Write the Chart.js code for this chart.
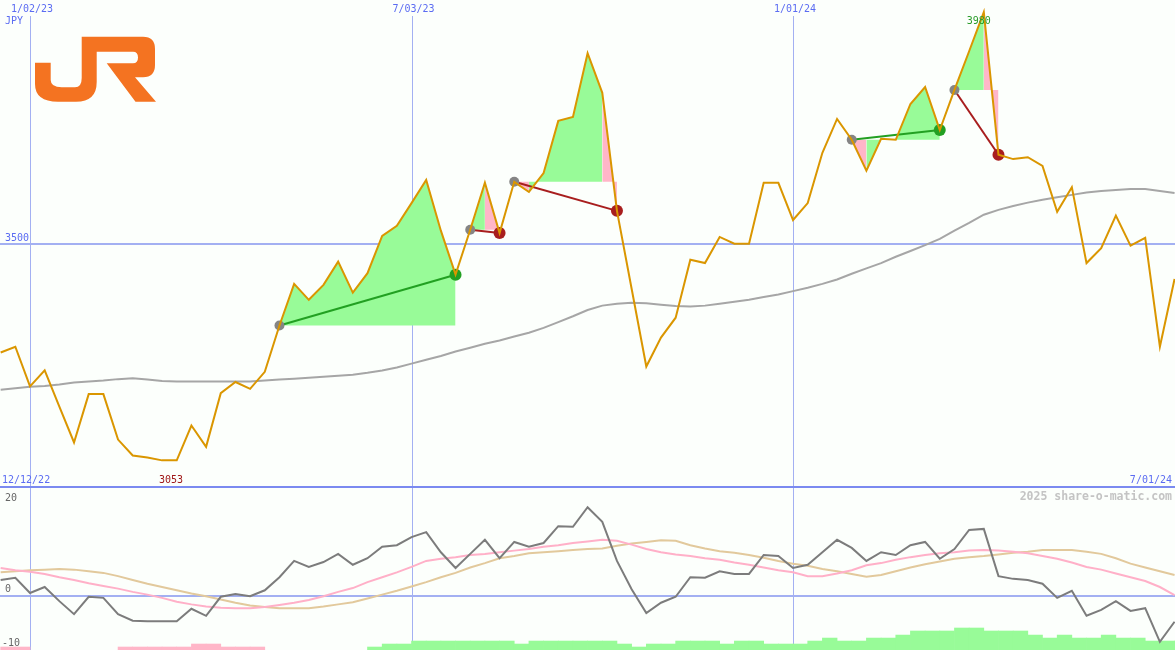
<!DOCTYPE html>
<html>
<head>
<meta charset="utf-8">
<title>JR weekly</title>
<script src="https://cdn.jsdelivr.net/npm/chart.js@4"></script>
<style>
  html, body { margin: 0; padding: 0; background: #fcfffc; }
  #wrap { position: relative; width: 1175px; height: 650px; overflow: hidden; }
  #precio { position: absolute; left: 0; top: 0; }
  #osc { position: absolute; left: 0; top: 486px; }
  #logo { position: absolute; left: 0; top: 0; }
</style>
</head>
<body>
<div id="wrap">
  <canvas id="precio" width="1175" height="486"></canvas>
  <canvas id="osc" width="1175" height="164"></canvas>
  <svg id="logo" width="170" height="110" viewBox="0 0 170 110">
    <path fill="#f47321" d="M35,62.7 H50.7 V80 Q50.7,87.3 61.7,87.3 H75 Q81.7,87.3 81.7,78 V36.7 H143 Q155,36.7 155,49 V65 Q155,77.3 143,77.3 H135 L156,101.7 H135.5 L106.7,63.3 H133 Q138,63.3 138,57.5 Q138,51.7 133,51.7 H96.7 V82 Q96.7,101.7 76,101.7 H58 Q35,101.7 35,84 Z"/>
  </svg>
</div>
<script>
// semanas: la primera es 12/19/22 (semana -2), 1/02/23 = semana 0
const FIRST_WEEK = -2;
const gridWeeks = [0, 26, 52];
const gridLabels = ['1/02/23', '7/03/23', '1/01/24'];

// precio semanal (JPY)
const price = [
  3276, 3288, 3206, 3239, 3164, 3090, 3190, 3190, 3096, 3063, 3059, 3053, 3053, 3125, 3081,
  3192, 3215, 3201, 3236, 3332, 3418, 3385, 3416, 3464, 3400, 3440, 3517, 3538, 3585, 3633,
  3528, 3437, 3530, 3627, 3523, 3629, 3608, 3647, 3755, 3763, 3895, 3813, 3569, 3408, 3247,
  3307, 3348, 3468, 3461, 3515, 3501, 3501, 3627, 3627, 3550, 3585, 3689, 3759, 3716, 3652,
  3718, 3716, 3790, 3825, 3736, 3819, 3899, 3980, 3685, 3676, 3680, 3662, 3567, 3618, 3461,
  3492, 3559, 3497, 3513, 3288, 3428
];

// media movil (gris)
const average = [
  3199, 3202, 3205, 3207, 3210, 3214, 3216, 3218, 3221, 3223, 3220, 3217, 3216, 3216, 3216,
  3216, 3216, 3216, 3218, 3220, 3222, 3224, 3226, 3228, 3230, 3234, 3239, 3245, 3253, 3261,
  3269, 3278, 3286, 3294, 3301, 3309, 3317, 3327, 3339, 3351, 3364, 3373, 3377, 3379, 3378,
  3375, 3372, 3371, 3373, 3377, 3381, 3385, 3391, 3396, 3403, 3410, 3418, 3427, 3439, 3450,
  3461, 3474, 3486, 3498, 3511, 3528, 3544, 3561, 3571, 3579, 3586, 3592, 3597, 3602, 3607,
  3610, 3612, 3614, 3614, 3610, 3606
];

// oscilador (panel inferior)
const momentum = [
  2.9, 3.3, 0.5, 1.6, -1.0, -3.4, -0.2, -0.4, -3.4, -4.6, -4.7, -4.7, -4.7, -2.4, -3.7,
  -0.2, 0.3, -0.1, 1.0, 3.4, 6.4, 5.3, 6.2, 7.7, 5.7, 6.9, 9.0, 9.3, 10.8, 11.7,
  8.0, 5.1, 7.7, 10.3, 6.9, 9.9, 9.0, 9.7, 12.8, 12.7, 16.3, 13.6, 6.4, 1.2, -3.2,
  -1.3, -0.2, 3.4, 3.3, 4.5, 4.0, 4.0, 7.5, 7.3, 5.1, 5.7, 8.0, 10.3, 8.8, 6.4,
  8.0, 7.5, 9.3, 9.9, 6.8, 8.6, 12.1, 12.3, 3.6, 3.1, 2.9, 2.2, -0.4, 0.9, -3.7,
  -2.6, -1.0, -2.8, -2.3, -8.5, -4.8
];
const signal = [
  5.1, 4.7, 4.4, 4.0, 3.4, 2.9, 2.3, 1.8, 1.3, 0.7, 0.2, -0.4, -1.1, -1.6, -2.0,
  -2.2, -2.3, -2.3, -2.1, -1.7, -1.3, -0.8, -0.1, 0.7, 1.4, 2.5, 3.4, 4.3, 5.3, 6.4,
  6.8, 7.1, 7.5, 7.7, 8.0, 8.3, 8.6, 9.0, 9.3, 9.7, 10.0, 10.3, 10.1, 9.4, 8.6,
  8.0, 7.6, 7.3, 6.9, 6.6, 6.1, 5.7, 5.2, 4.7, 4.3, 3.6, 3.6, 4.1, 4.7, 5.6,
  6.0, 6.6, 7.1, 7.5, 7.8, 8.0, 8.3, 8.4, 8.3, 8.1, 7.8, 7.3, 6.8, 6.1, 5.3,
  4.8, 4.1, 3.4, 2.7, 1.6, 0.1
];
const slow = [
  4.3, 4.5, 4.7, 4.8, 4.9, 4.8, 4.5, 4.2, 3.6, 2.9, 2.2, 1.6, 1.0, 0.4, -0.1,
  -0.7, -1.3, -1.8, -2.1, -2.3, -2.3, -2.3, -2.0, -1.6, -1.2, -0.5, 0.2, 0.9, 1.7, 2.5,
  3.4, 4.2, 5.2, 6.0, 6.9, 7.3, 7.8, 8.0, 8.2, 8.4, 8.6, 8.7, 9.2, 9.6, 9.9,
  10.2, 10.1, 9.3, 8.7, 8.2, 7.9, 7.5, 7.0, 6.4, 5.9, 5.5, 4.9, 4.5, 4.0, 3.5,
  3.8, 4.5, 5.2, 5.8, 6.3, 6.8, 7.1, 7.3, 7.6, 7.9, 8.1, 8.4, 8.4, 8.4, 8.1,
  7.7, 6.9, 5.9, 5.2, 4.5, 3.8
];
// histograma: positivo verde, negativo rosa (altura desde la base -10)
const histogram = [
  -0.55, -0.55, 0, 0, 0, 0, 0, 0, -0.55, -0.55, -0.55, -0.55, -0.55, -1.1, -1.1,
  -0.55, -0.55, -0.55, 0, 0, 0, 0, 0, 0, 0, 0.55, 1.1, 1.1, 1.65, 1.65,
  1.65, 1.65, 1.65, 1.65, 1.65, 1.1, 1.65, 1.65, 1.65, 1.65, 1.65, 1.65, 1.1, 0.55, 1.1,
  1.1, 1.65, 1.65, 1.65, 1.1, 1.65, 1.65, 1.1, 1.1, 1.1, 1.65, 2.2, 1.65, 1.65, 2.2,
  2.2, 2.75, 3.5, 3.5, 3.5, 4.05, 4.05, 3.5, 3.5, 3.5, 2.75, 2.2, 2.75, 2.2, 2.2,
  2.75, 2.2, 2.2, 1.65, 1.65, 1.65
];

// operaciones: semana de entrada, semana de salida, color de cada tramo (g verde / p rosa)
const tradeEntry = [17, 30, 33, 56, 63];
const tradeExit = [29, 32, 40, 62, 66];
const tradeFill = ['gggggggggggg', 'gp', 'pgggggp', 'pgpggg', 'ggp'];

const X_MIN = -2.045, X_MAX = 78.03;
const gridColor = '#a3b0f2';
const labelBlue = '#5b6cf2';
const mono = '"DejaVu Sans Mono", monospace';
const verde = '#98fb98', rosa = '#ffb6c8';

const pt = (arr, i) => ({ x: i + FIRST_WEEK, y: arr[i] });

// ---------- panel de precio ----------
const datasetsPrecio = [];

datasetsPrecio.push({
  label: 'precio',
  data: price.map((p, i) => pt(price, i)),
  borderColor: '#da9600',
  borderWidth: 2,
  order: 0
});

tradeEntry.forEach((entrada, t) => {
  const salida = tradeExit[t];
  const e = entrada - FIRST_WEEK, s = salida - FIRST_WEEK;
  const gano = price[s] > price[e];
  const colorSalida = gano ? '#22a022' : '#a81e1e';

  // linea entrada -> salida con marcadores
  datasetsPrecio.push({
    label: 'trade' + t,
    data: [pt(price, e), pt(price, s)],
    borderColor: colorSalida,
    borderWidth: 2,
    pointRadius: [5, 6],
    pointBackgroundColor: ['#858585', colorSalida],
    pointBorderWidth: 0,
    order: 1
  });

  // area entre el precio y el nivel de entrada
  const tramo = [];
  for (let i = e; i <= s; i++) tramo.push(pt(price, i));
  datasetsPrecio.push({
    label: 'area' + t,
    data: tramo,
    borderWidth: 0,
    borderColor: 'rgba(0,0,0,0)',
    backgroundColor: verde,
    fill: { value: price[e] },
    segment: {
      backgroundColor: c => tradeFill[t][c.p0DataIndex] === 'g' ? verde : rosa
    },
    order: 3
  });
});

datasetsPrecio.push({
  label: 'media',
  data: average.map((p, i) => pt(average, i)),
  borderColor: '#a6a6a6',
  borderWidth: 2,
  order: 2
});

const decorPrecio = {
  id: 'decorPrecio',
  beforeDatasetsDraw(chart) {
    const { ctx, scales: { x, y }, width, height } = chart;
    ctx.save();
    ctx.fillStyle = gridColor;
    gridWeeks.forEach(w => ctx.fillRect(Math.round(x.getPixelForValue(w)), 16, 1, height - 16));
    const y35 = Math.round(y.getPixelForValue(3500));
    ctx.fillRect(0, y35 - 1, width, 2);
    ctx.restore();
  },
  afterDatasetsDraw(chart) {
    const { ctx, scales: { x, y }, width } = chart;
    ctx.save();
    ctx.font = '10px ' + mono;
    ctx.textBaseline = 'alphabetic';
    ctx.fillStyle = labelBlue;
    ctx.textAlign = 'center';
    gridWeeks.forEach((w, i) => ctx.fillText(gridLabels[i], x.getPixelForValue(w) + 2, 12));
    ctx.textAlign = 'left';
    ctx.fillText('JPY', 5, 24);
    ctx.fillText('3500', 5, y.getPixelForValue(3500) - 3);
    ctx.fillText('12/12/22', 2, 483);
    ctx.textAlign = 'right';
    ctx.fillText('7/01/24', width - 3, 483);

    const maxP = Math.max(...price), minP = Math.min(...price);
    const iMax = price.indexOf(maxP), iMin = price.indexOf(minP);
    ctx.textAlign = 'center';
    ctx.fillStyle = '#2a9d2a';
    ctx.fillText(String(maxP), x.getPixelForValue(iMax + FIRST_WEEK) - 5, y.getPixelForValue(maxP) + 12);
    ctx.fillStyle = '#a01818';
    ctx.fillText(String(minP), x.getPixelForValue(iMin + FIRST_WEEK) + 9, 483);
    ctx.restore();
  }
};

new Chart(document.getElementById('precio'), {
  type: 'line',
  data: { datasets: datasetsPrecio },
  options: {
    responsive: false,
    animation: false,
    devicePixelRatio: 1,
    events: [],
    layout: { padding: 0, autoPadding: false },
    elements: { point: { radius: 0 }, line: { tension: 0 } },
    plugins: { legend: { display: false }, tooltip: { enabled: false } },
    scales: {
      x: { type: 'linear', min: X_MIN, max: X_MAX, offset: false, display: false },
      y: { min: 3000, max: 4005, display: false }
    }
  },
  plugins: [decorPrecio]
});

// ---------- panel oscilador ----------
const barras = [];
const barColores = [];
histogram.forEach((h, i) => {
  if (h === 0) return;
  barras.push({ x: i + FIRST_WEEK + 0.5, y: [-10, -10 + Math.abs(h)] });
  barColores.push(h > 0 ? verde : rosa);
});

const decorOsc = {
  id: 'decorOsc',
  beforeDatasetsDraw(chart) {
    const { ctx, scales: { x, y }, width, height } = chart;
    ctx.save();
    ctx.fillStyle = gridColor;
    gridWeeks.forEach(w => ctx.fillRect(Math.round(x.getPixelForValue(w)), 2, 1, height - 2));
    const y0 = Math.round(y.getPixelForValue(0));
    ctx.fillRect(0, y0 - 1, width, 2);
    ctx.fillStyle = '#7b8af0';
    ctx.fillRect(0, 0, width, 2);
    ctx.restore();
  },
  afterDatasetsDraw(chart) {
    const { ctx, scales: { y }, width } = chart;
    ctx.save();
    ctx.font = '10px ' + mono;
    ctx.fillStyle = '#666666';
    ctx.textAlign = 'left';
    ctx.fillText('20', 5, 15);
    ctx.fillText('0', 5, y.getPixelForValue(0) - 4);
    ctx.fillText('-10', 2, 160);
    ctx.font = 'bold 11.5px ' + mono;
    ctx.fillStyle = '#c4c4c4';
    ctx.textAlign = 'right';
    ctx.fillText('2025 share-o-matic.com', width - 3, 14);
    ctx.restore();
  }
};

new Chart(document.getElementById('osc'), {
  type: 'line',
  data: {
    datasets: [
      { label: 'momentum', data: momentum.map((v, i) => pt(momentum, i)), borderColor: '#7c7c7c', borderWidth: 2, order: 0 },
      { label: 'senal', data: signal.map((v, i) => pt(signal, i)), borderColor: '#ffb0c8', borderWidth: 2, order: 1 },
      { label: 'lenta', data: slow.map((v, i) => pt(slow, i)), borderColor: '#e2c99c', borderWidth: 2, order: 2 },
      {
        type: 'bar', label: 'hist', data: barras, backgroundColor: barColores,
        barPercentage: 1, categoryPercentage: 1, grouped: false, borderWidth: 0, order: 3
      }
    ]
  },
  options: {
    responsive: false,
    animation: false,
    devicePixelRatio: 1,
    events: [],
    layout: { padding: 0, autoPadding: false },
    elements: { point: { radius: 0 }, line: { tension: 0 } },
    plugins: { legend: { display: false }, tooltip: { enabled: false } },
    scales: {
      x: { type: 'linear', min: X_MIN, max: X_MAX, offset: false, display: false },
      y: { min: -10, max: 20.2, display: false }
    }
  },
  plugins: [decorOsc]
});
</script>
</body>
</html>
